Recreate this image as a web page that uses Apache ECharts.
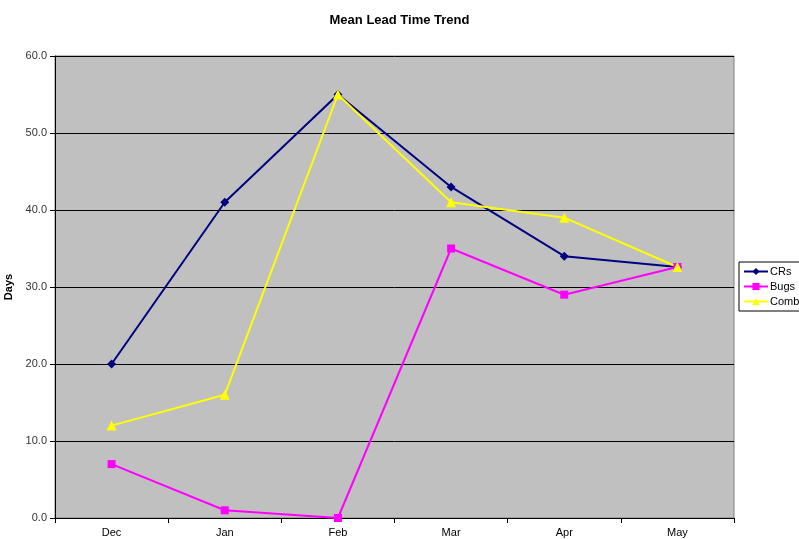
<!DOCTYPE html>
<html>
<head>
<meta charset="utf-8">
<script src="https://cdn.jsdelivr.net/npm/echarts@6/dist/echarts.min.js"></script>
<style>
  html, body { margin: 0; padding: 0; background: #fff; }
  #chart { width: 799px; height: 539px; }
</style>
</head>
<body>
<div id="chart"></div>
<script>
const months = ['Dec', 'Jan', 'Feb', 'Mar', 'Apr', 'May']
const crs = [20, 41, 55, 43, 34, 32.6]
const bugs = [7, 1, 0, 35, 29, 32.6]
const combo = [12, 16, 55, 41, 39, 32.6]

const font = 'Liberation Sans, Arial, sans-serif'

let option = {
  animation: false,
  backgroundColor: '#fff',
  title: {
    text: 'Mean Lead Time Trend',
    left: 'center',
    top: 9,
    textStyle: { fontFamily: font, fontSize: 13, fontWeight: 'bold', color: '#000' }
  },
  legend: {
    orient: 'vertical',
    left: 739,
    top: 262,
    padding: [4, 6, 4, 4],
    itemGap: 4,
    itemWidth: 24,
    itemHeight: 9,
    borderColor: '#000',
    borderWidth: 1,
    backgroundColor: '#fff',
    textStyle: { fontFamily: font, fontSize: 11, color: '#000', padding: [0, 0, 0, -3] },
    data: ['CRs', 'Bugs', 'Combo']
  },
  grid: {
    left: 55,
    right: 65,
    top: 56,
    bottom: 21,
    outerBoundsMode: 'none',
    containLabel: false,
    show: true,
    backgroundColor: '#c0c0c0',
    borderColor: '#808080',
    borderWidth: 1
  },
  xAxis: {
    type: 'category',
    data: months,
    boundaryGap: true,
    axisLine: { lineStyle: { color: '#000', width: 1 } },
    axisTick: { show: true, length: 5, lineStyle: { color: '#000' } },
    axisLabel: { fontFamily: font, fontSize: 11, color: '#000', margin: 9 }
  },
  yAxis: {
    type: 'value',
    min: 0,
    max: 60,
    interval: 10,
    name: 'Days',
    nameLocation: 'middle',
    nameGap: 37,
    nameTextStyle: { fontFamily: font, fontSize: 11, fontWeight: 'bold', color: '#000' },
    axisLine: { show: true, lineStyle: { color: '#000' } },
    axisTick: { show: true, length: 5, lineStyle: { color: '#000' } },
    axisLabel: {
      fontFamily: font, fontSize: 11, color: '#333', margin: 8,
      formatter: v => v.toFixed(1)
    },
    splitLine: { show: true, lineStyle: { color: '#000', width: 1 } }
  },
  series: [
    {
      name: 'CRs',
      type: 'line',
      data: crs,
      symbol: 'diamond',
      symbolSize: 9,
      lineStyle: { color: '#000080', width: 2 },
      itemStyle: { color: '#000080' }
    },
    {
      name: 'Bugs',
      type: 'line',
      data: bugs,
      symbol: 'rect',
      symbolSize: 8,
      lineStyle: { color: '#ff00ff', width: 2 },
      itemStyle: { color: '#ff00ff' }
    },
    {
      name: 'Combo',
      type: 'line',
      data: combo,
      symbol: 'triangle',
      symbolSize: 10,
      lineStyle: { color: '#ffff00', width: 2 },
      itemStyle: { color: '#ffff00' }
    }
  ]
}

var myChart = echarts.init(document.getElementById('chart'))
myChart.setOption(option)
</script>
</body>
</html>
